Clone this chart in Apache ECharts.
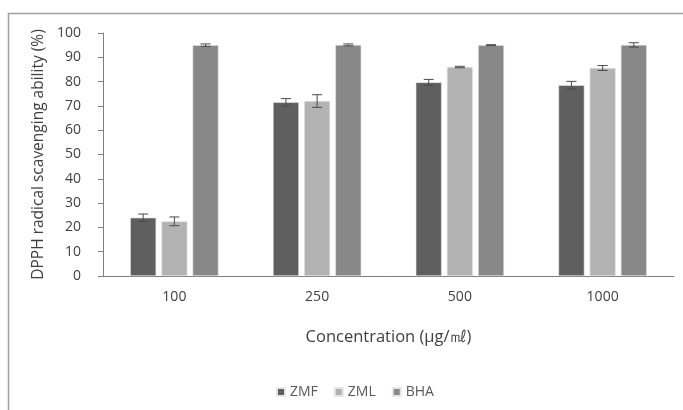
<!DOCTYPE html>
<html><head><meta charset="utf-8">
<script src="https://cdn.jsdelivr.net/npm/echarts@6/dist/echarts.min.js"></script>
<style>html,body{margin:0;padding:0;background:#fff}#c{width:683px;height:410px}</style>
</head><body><div id="c"></div>
<script>
var categories = ['100', '250', '500', '1000'];
var seriesNames = ['ZMF', 'ZML', 'BHA'];
var zmf = [24, 71.5, 79.7, 78.5];
var zml = [22.5, 72, 86, 85.6];
var bha = [95, 95.1, 95, 95.1];
var zmfErr = [1.5, 1.5, 1.2, 1.6];
var zmlErr = [1.8, 2.6, 0.3, 1.0];
var bhaErr = [0.5, 0.4, 0.2, 0.9];
var yTicks = [0, 10, 20, 30, 40, 50, 60, 70, 80, 90, 100];

var colors = ['#5f5f5f', '#b3b3b3', '#888888'];
var values = [zmf, zml, bha];
var errors = [zmfErr, zmlErr, bhaErr];
var BAR_FRAC = 0.182, GAP = 0.2;

var chart = echarts.init(document.getElementById('c'));
var series = [];
values.forEach(function (v, i) {
  series.push({
    name: seriesNames[i], type: 'bar', data: v,
    barWidth: (BAR_FRAC * 100) + '%', barGap: (GAP * 100) + '%',
    itemStyle: { color: colors[i], borderColor: '#e6e6e6', borderWidth: 0.6 }
  });
});
values.forEach(function (v, i) {
  series.push({
    type: 'custom', silent: true, z: 10,
    data: v.map(function (val, j) { return [j, val - errors[i][j], val + errors[i][j]]; }),
    renderItem: function (params, api) {
      var idx = api.value(0);
      var lo = api.coord([idx, api.value(1)]);
      var hi = api.coord([idx, api.value(2)]);
      var bw = api.size([1, 0])[0];
      var off = (i - 1) * bw * BAR_FRAC * (1 + GAP);
      var x = lo[0] + off, cap = 5;
      var st = { stroke: '#4a4a4a', lineWidth: 1 };
      return { type: 'group', children: [
        { type: 'line', shape: { x1: x, y1: lo[1], x2: x, y2: hi[1] }, style: st },
        { type: 'line', shape: { x1: x - cap, y1: lo[1], x2: x + cap, y2: lo[1] }, style: st },
        { type: 'line', shape: { x1: x - cap, y1: hi[1], x2: x + cap, y2: hi[1] }, style: st }
      ]};
    }
  });
});

chart.setOption({
  animation: false,
  textStyle: { fontFamily: 'Open Sans' },
  graphic: [{ type: 'rect', shape: { x: 8.5, y: 13.5, width: 700, height: 420 },
    style: { fill: 'none', stroke: '#a0a0a0', lineWidth: 1.5 } }],
  grid: { left: 103, right: 9, top: 33, bottom: 134 },
  legend: {
    data: seriesNames, top: 380, left: 271, itemWidth: 8, itemHeight: 8, itemGap: 16,
    icon: 'rect', textStyle: { color: '#595959', fontSize: 14, fontFamily: 'Open Sans' }
  },
  xAxis: {
    type: 'category', data: categories,
    name: 'Concentration (µg/㎖)', nameLocation: 'middle', nameGap: 53,
    nameTextStyle: { color: '#404040', fontSize: 16.5, fontFamily: 'Open Sans' },
    axisLine: { lineStyle: { color: '#808080', width: 1 } },
    axisTick: { length: 5, lineStyle: { color: '#808080' } },
    axisLabel: { color: '#404040', fontSize: 14, margin: 14 }
  },
  yAxis: {
    type: 'value', min: 0, max: 100, interval: 10,
    name: 'DPPH radical scavenging ability (%)', nameLocation: 'middle', nameGap: 50,
    nameTextStyle: { color: '#404040', fontSize: 15.5, fontFamily: 'Open Sans' },
    axisLine: { show: true, lineStyle: { color: '#808080', width: 1 } },
    axisTick: { show: true, length: 5, lineStyle: { color: '#808080' } },
    splitLine: { show: false },
    axisLabel: { color: '#404040', fontSize: 14, margin: 22,
      formatter: function (v) { return yTicks.indexOf(v) >= 0 ? String(v) : ''; } }
  },
  series: series
});
</script></body></html>
